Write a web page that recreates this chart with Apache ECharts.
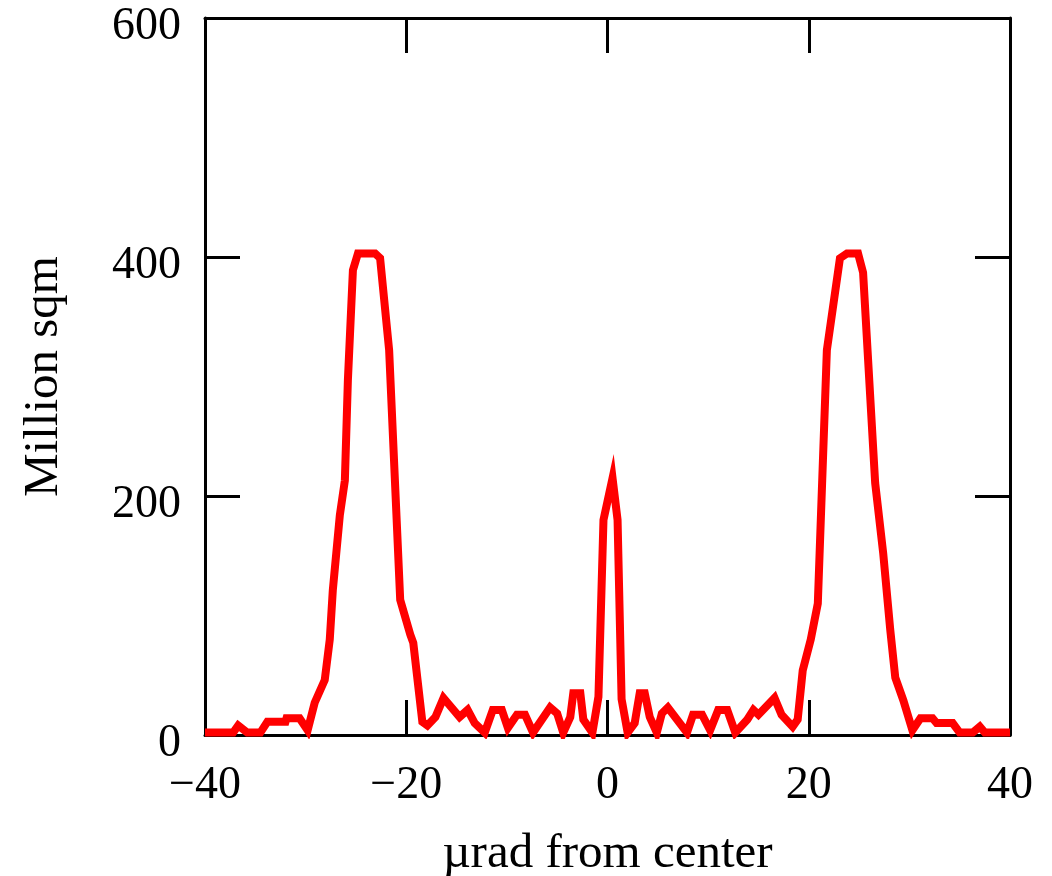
<!DOCTYPE html>
<html>
<head>
<meta charset="utf-8">
<script src="https://cdn.jsdelivr.net/npm/echarts@6/dist/echarts.min.js"></script>
<style>
html,body{margin:0;padding:0;background:#fff;}
#chart{width:1052px;height:876px;}
</style>
</head>
<body>
<div id="chart"></div>
<script>
// angle from center (µrad) and area (million sqm)
var angle = [-40.0,-37.2,-36.7,-35.8,-34.5,-33.8,-32.0,-31.9,-30.6,-29.8,-29.1,-28.1,-27.6,-27.3,-26.6,-26.1,-25.8,-25.3,-24.8,-23.1,-22.6,-21.7,-20.6,-19.6,-19.3,-18.4,-17.9,-17.1,-16.3,-14.7,-13.9,-13.2,-12.2,-11.4,-10.5,-9.9,-9.0,-8.2,-7.4,-5.7,-5.0,-4.4,-3.7,-3.4,-2.7,-2.4,-1.5,-0.9,-0.4,0.5,1.0,1.4,2.0,2.7,3.2,3.7,4.2,4.9,5.4,6.0,7.9,8.5,9.4,10.2,11.0,11.9,12.7,13.9,14.5,15.0,16.6,17.3,18.4,18.9,19.4,20.2,20.9,21.8,23.1,23.8,24.9,25.4,26.6,27.4,28.1,28.6,29.4,30.3,31.1,32.3,32.7,34.3,35.0,36.3,37.0,37.5,40.0];
var area = [2,2,8,2,2,11,11,14,14,4,27,46,80,121,184,213,297,389,403,403,399,322,113,84,77,11,8,15,31,15,21,10,2,21,21,6,17,17,2,23,18,2,15,35,35,13,2,32,180,215,180,30,2,10,35,35,15,2,18,23,2,17,17,4,21,21,2,13,21,17,31,17,7,13,54,80,110,322,399,403,403,387,211,152,88,48,29,4,14,14,10,10,2,2,7,2,2];

var points = [];
for (var i = 0; i < angle.length; i++) {
	points.push([angle[i], area[i]]);
}

var font = '"Liberation Serif", "DejaVu Serif", serif';
var myChart = echarts.init(document.getElementById('chart'));

function xAxisOf(pos, showLabel){
	return {
		type: 'value', position: pos,
		min: -40, max: 40, interval: 20,
		axisLine: {show: true, onZero: false, lineStyle: {color: '#000', width: 3}},
		axisTick: {show: true, inside: true, length: 35, lineStyle: {color: '#000', width: 3}},
		splitLine: {show: false},
		axisLabel: {
			show: showLabel, margin: 28, fontFamily: font, fontSize: 46, color: '#000',
			formatter: function(v){ return v < 0 ? '\u2212' + Math.abs(v) : '' + v; }
		},
		name: showLabel ? '\u00b5rad from center' : '',
		nameLocation: 'middle', nameGap: 95,
		nameTextStyle: {fontFamily: font, fontSize: 49, color: '#000'}
	};
}
function yAxisOf(pos, showLabel){
	return {
		type: 'value', position: pos,
		min: 0, max: 600, interval: 200,
		axisLine: {show: true, onZero: false, lineStyle: {color: '#000', width: 3}},
		axisTick: {show: true, inside: true, length: 35, lineStyle: {color: '#000', width: 3}},
		splitLine: {show: false},
		// labels sit a little below their ticks, as in the original
		axisLabel: {show: showLabel, margin: 24, fontFamily: font, fontSize: 46, color: '#000',
			verticalAlign: 'top', lineHeight: 18},
		name: showLabel ? 'Million sqm' : '',
		nameLocation: 'middle', nameGap: 136,
		nameTextStyle: {fontFamily: font, fontSize: 49, color: '#000'}
	};
}

var option = {
	animation: false,
	backgroundColor: '#fff',
	grid: {left: 205, right: 42, top: 18, bottom: 141, outerBoundsMode: 'none'},
	xAxis: [xAxisOf('bottom', true), xAxisOf('top', false)],
	yAxis: [yAxisOf('left', true), yAxisOf('right', false)],
	series: [{
		type: 'line',
		data: points,
		showSymbol: false,
		lineStyle: {color: '#ff0000', width: 8, join: 'miter', miterLimit: 10},
		z: 1
	}]
};
myChart.setOption(option);
</script>
</body>
</html>
